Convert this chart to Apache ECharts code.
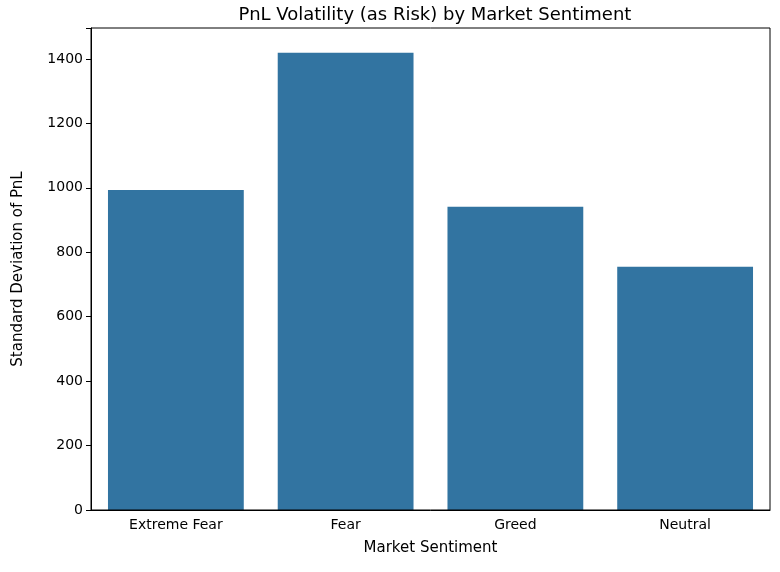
<!DOCTYPE html>
<html><head><meta charset="utf-8">
<script src="https://cdn.jsdelivr.net/npm/echarts@6/dist/echarts.min.js"></script>
<style>html,body{margin:0;padding:0;background:#fff}#c{width:780px;height:572px}</style>
</head><body><div id="c"></div>
<script>
const categories = ["Extreme Fear", "Fear", "Greed", "Neutral"];
const stdPnl = [993, 1419, 941, 755];
const yTicks = [0, 200, 400, 600, 800, 1000, 1200, 1400];
const chart = echarts.init(document.getElementById('c'));
const font = 'DejaVu Sans';
chart.setOption({
  animation: false,
  title: { text: 'PnL Volatility (as Risk) by Market Sentiment', left: 430, top: 1, textAlign: 'center',
    textStyle: { fontFamily: font, fontSize: 18, fontWeight: 'normal', color: '#000' } },
  grid: { left: 91, right: 10, top: 28, bottom: 62 },
  xAxis: { type: 'category', data: categories, name: 'Market Sentiment', nameLocation: 'middle', nameGap: 31,
    nameTextStyle: { fontFamily: font, fontSize: 15, color: '#000' },
    axisLine: { lineStyle: { color: '#000' } }, axisTick: { alignWithLabel: true, lineStyle: { color: '#000' } },
    axisLabel: { fontFamily: font, fontSize: 14, color: '#000', margin: 8 } },
  yAxis: { type: 'value', min: 0, max: 1496, interval: 200, name: 'Standard Deviation of PnL', nameLocation: 'middle', nameGap: 65,
    nameTextStyle: { fontFamily: font, fontSize: 15, color: '#000' },
    splitLine: { show: false }, axisLine: { show: true, lineStyle: { color: '#000' } },
    axisTick: { show: true, lineStyle: { color: '#000' } },
    axisLabel: { fontFamily: font, fontSize: 14, color: '#000',
      formatter: v => yTicks.includes(v) ? String(v) : '' } },
  series: [{ type: 'bar', data: stdPnl, barWidth: '80%', itemStyle: { color: '#3274a1' } }]
});
chart.getZr().add(new echarts.graphic.Rect({ shape: { x: 91, y: 28, width: 679, height: 482 },
  style: { fill: 'none', stroke: '#000', lineWidth: 1 }, z: 100 }));
</script></body></html>
